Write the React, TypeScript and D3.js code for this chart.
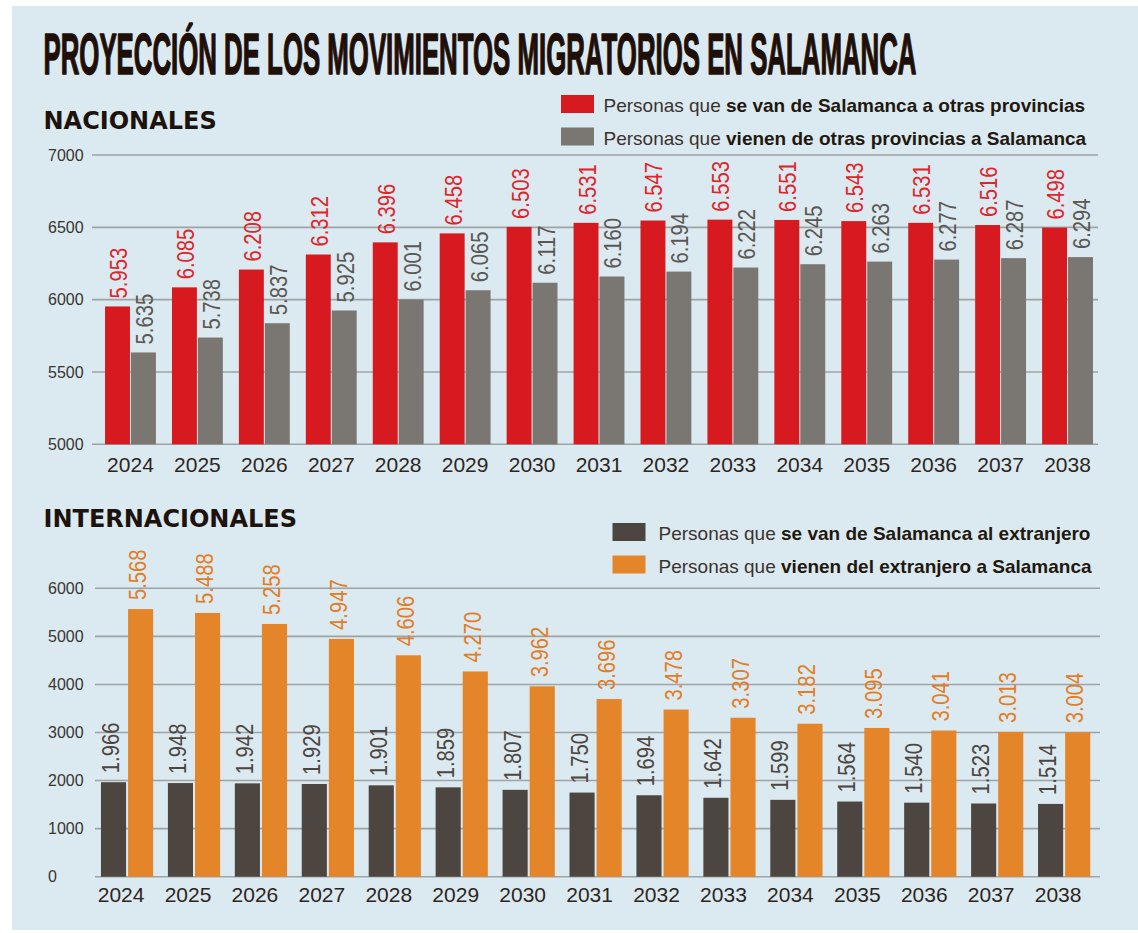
import React, { useLayoutEffect, useRef, useState } from "react";
import * as d3 from "d3";

const years = ["2024","2025","2026","2027","2028","2029","2030","2031","2032","2033","2034","2035","2036","2037","2038"];
const nacSeVan = [5953,6085,6208,6312,6396,6458,6503,6531,6547,6553,6551,6543,6531,6516,6498];
const nacVienen = [5635,5738,5837,5925,6001,6065,6117,6160,6194,6222,6245,6263,6277,6287,6294];
const intSeVan = [1966,1948,1942,1929,1901,1859,1807,1750,1694,1642,1599,1564,1540,1523,1514];
const intVienen = [5568,5488,5258,4947,4606,4270,3962,3696,3478,3307,3182,3095,3041,3013,3004];
const nacTicks = [5000,5500,6000,6500,7000];
const intTicks = [0,1000,2000,3000,4000,5000,6000];

const title = "PROYECCIÓN DE LOS MOVIMIENTOS MIGRATORIOS EN SALAMANCA";
const nacLegend = [
  { pre: "Personas que ", bold: "se van de Salamanca a otras provincias" },
  { pre: "Personas que ", bold: "vienen de otras provincias a Salamanca" },
];
const intLegend = [
  { pre: "Personas que ", bold: "se van de Salamanca al extranjero" },
  { pre: "Personas que ", bold: "vienen del extranjero a Salamanca" },
];

const fmt = d3.formatLocale({ decimal: ",", thousands: ".", grouping: [3], currency: ["", "€"] }).format(",d");

const SANS = "'Liberation Sans', Arial, Helvetica, sans-serif";
const TITLE_W = 873;

type PanelProps = {
  a: number[]; b: number[]; ticks: number[];
  domain: [number, number]; yRange: [number, number];
  xRange: [number, number]; pi: number; po: number;
  gridX: [number, number]; gap: number;
  colA: string; colB: string; labA: string; labB: string;
  labDx: number; labGap: number; yearY: number; yearDx: number;
};

function Panel(p: PanelProps) {
  const x = d3.scaleBand<string>().domain(years).range(p.xRange).paddingInner(p.pi).paddingOuter(p.po);
  const bw = x.bandwidth();
  const w = (bw - p.gap) / 2;
  const y = d3.scaleLinear().domain(p.domain).range(p.yRange);
  const y0 = y(p.domain[0]);
  const label = (cx: number, v: number, col: string, key: string) => (
    <text key={key} transform={`translate(${cx + p.labDx},${y(v) - p.labGap}) rotate(-90) scale(0.88,1)`}
      fontFamily={SANS} fontSize={23} fill={col}>{fmt(v)}</text>
  );
  return (
    <g>
      {p.ticks.map((t) => (
        <g key={t}>
          <line x1={p.gridX[0]} x2={p.gridX[1]} y1={y(t)} y2={y(t)} stroke="#9ea3a6" strokeWidth={1.6} />
          <text x={48} y={y(t)} dy="0.36em" fontFamily={SANS} fontSize={16} fill="#3a3430">{t}</text>
        </g>
      ))}
      {years.map((yr, i) => {
        const x0 = x(yr)!;
        const xa = x0, xb = x0 + w + p.gap;
        return (
          <g key={yr}>
            <rect x={xa} y={y(p.a[i])} width={w} height={y0 - y(p.a[i])} fill={p.colA} />
            <rect x={xb} y={y(p.b[i])} width={w} height={y0 - y(p.b[i])} fill={p.colB} />
            {label(xa + w / 2, p.a[i], p.labA, "a")}
            {label(xb + w / 2, p.b[i], p.labB, "b")}
            <text x={x0 + bw / 2 + p.yearDx} y={p.yearY} textAnchor="middle" fontFamily={SANS} fontSize={21} fill="#2e2520">{yr}</text>
          </g>
        );
      })}
    </g>
  );
}

function Legend({ items, colors, x, y0, dy, tx }: { items: { pre: string; bold: string }[]; colors: string[]; x: number; y0: number; dy: number; tx: number }) {
  return (
    <g>
      {items.map((it, i) => (
        <g key={i}>
          <rect x={x} y={y0 + i * dy - 17} width={33} height={18} fill={colors[i]} />
          <text x={tx} y={y0 + i * dy} fontFamily={SANS} fontSize={19} fill="#3b322d">
            {it.pre}
            <tspan fontWeight="bold" fill="#22180f">{it.bold}</tspan>
          </text>
        </g>
      ))}
    </g>
  );
}

function Title() {
  const ref = useRef<SVGTextElement>(null);
  const [sx, setSx] = useState(0.5);
  useLayoutEffect(() => {
    if (ref.current) {
      const len = ref.current.getComputedTextLength();
      if (len > 0) setSx(TITLE_W / len);
    }
  }, []);
  return (
    <text ref={ref} transform={`translate(43.5,74) scale(${sx},1)`} x={0} y={0}
      fontFamily={SANS} fontWeight="bold" fontSize={58} fill="#1e0f08"
      stroke="#1e0f08" strokeWidth={1.6} strokeLinejoin="round">{title}</text>
  );
}

export default function App() {
  return (
    <svg width={1138} height={933} style={{ position: "absolute", left: 0, top: 0, display: "block" }}>
      <rect x={0} y={0} width={1138} height={933} fill="#ffffff" />
      <rect x={12} y={6} width={1126} height={924} fill="#dbeaf1" />
      <Title />

      <text x={43.5} y={128.5} fontFamily="'DejaVu Sans', sans-serif" fontWeight="bold" fontSize={24} fill="#1e120c">NACIONALES</text>
      <Legend items={nacLegend} colors={["#d71a1f", "#7a7671"]} x={561} y0={112} dy={32.5} tx={603.5} />
      <Panel a={nacSeVan} b={nacVienen} ticks={nacTicks} domain={[5000, 7000]} yRange={[444.3, 155]}
        xRange={[97, 1101]} pi={0.24} po={0.12} gridX={[92, 1098]} gap={1}
        colA="#d71a1f" colB="#7a7671" labA="#e0242a" labB="#5b5753"
        labDx={9.5} labGap={8} yearY={471.5} yearDx={0} />

      <text x={43.5} y={526.7} fontFamily="'DejaVu Sans', sans-serif" fontWeight="bold" fontSize={24} fill="#1e120c">INTERNACIONALES</text>
      <Legend items={intLegend} colors={["#4d4640", "#e5852a"]} x={612.5} y0={540} dy={32.5} tx={658.5} />
      <Panel a={intSeVan} b={intVienen} ticks={intTicks} domain={[0, 6000]} yRange={[876.7, 588.3]}
        xRange={[93.6, 1097.6]} pi={0.22} po={0.11} gridX={[95, 1100]} gap={2}
        colA="#4d4640" colB="#e5852a" labA="#4d4640" labB="#e27d26"
        labDx={5.5} labGap={9} yearY={901.7} yearDx={-6} />
    </svg>
  );
}
